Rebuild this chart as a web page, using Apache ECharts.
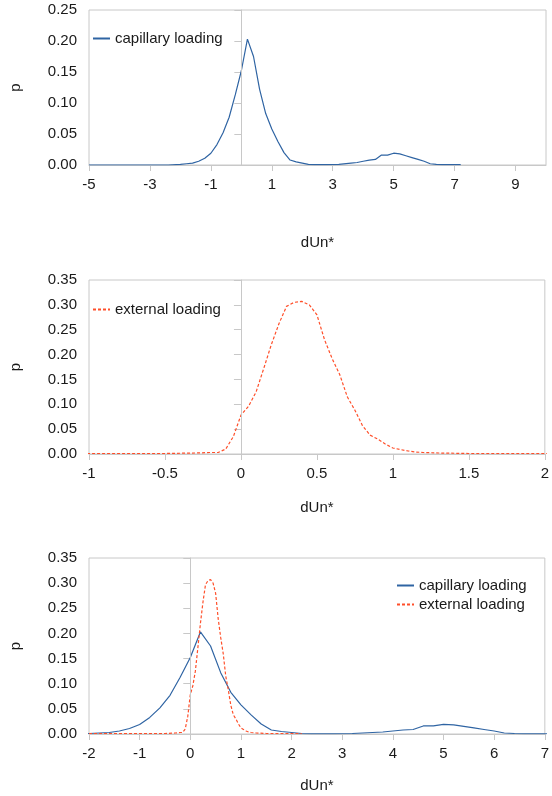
<!DOCTYPE html>
<html>
<head>
<meta charset="utf-8">
<script src="https://cdn.jsdelivr.net/npm/echarts@6/dist/echarts.min.js"></script>
<style>
  html, body { margin: 0; padding: 0; background: #fff; }
  #chart { width: 552px; height: 796px; }
</style>
</head>
<body>
<div id="chart"></div>
<script>
// Probability density of dUn* for the two loading cases
const capillaryX = [-5, -4, -3, -2.4, -2, -1.8, -1.6, -1.4, -1.2, -1, -0.8, -0.6, -0.4, -0.2, 0, 0.2, 0.4, 0.6, 0.8, 1,
  1.2, 1.4, 1.6, 1.8, 2, 2.2, 2.4, 2.8, 3.2, 3.6, 3.8, 4, 4.2, 4.4, 4.6, 4.8, 5, 5.2, 5.4, 5.6, 5.8, 6, 6.2, 6.4, 6.6, 7.2];
const capillaryP = [0, 0, 0, 0, 0.001, 0.002, 0.003, 0.006, 0.011, 0.019, 0.033, 0.052, 0.077, 0.113, 0.152, 0.203, 0.175, 0.122, 0.083, 0.058,
  0.038, 0.02, 0.008, 0.005, 0.003, 0.001, 0.0005, 0.0005, 0.001, 0.003, 0.004, 0.006, 0.008, 0.009, 0.016, 0.016, 0.019, 0.018, 0.015, 0.012, 0.009, 0.006, 0.002, 0.001, 0.0005, 0.0005];

const externalX = [-2, -1, -0.5, -0.3, -0.2, -0.15, -0.1, -0.05, 0, 0.05, 0.1, 0.15, 0.2, 0.25, 0.3, 0.35, 0.4, 0.45, 0.5, 0.55,
  0.6, 0.65, 0.7, 0.75, 0.8, 0.85, 0.9, 0.95, 1, 1.05, 1.1, 1.15, 1.2, 1.3, 1.5, 2, 2.2];
const externalP = [0.001, 0.001, 0.001, 0.002, 0.003, 0.003, 0.010, 0.035, 0.078, 0.096, 0.125, 0.172, 0.22, 0.262, 0.297, 0.305, 0.307, 0.300, 0.28, 0.23,
  0.192, 0.16, 0.115, 0.088, 0.057, 0.038, 0.03, 0.02, 0.012, 0.009, 0.006, 0.004, 0.003, 0.002, 0.001, 0.001, 0.001];

const topXTicks = [-5, -3, -1, 1, 3, 5, 7, 9];
const xAxisTitle = 'dUn*';
const yAxisTitle = 'p';
const capName = 'capillary loading';
const extName = 'external loading';

const FONT = 'Liberation Sans, Arial, sans-serif';
const GRAY = '#c8c8c8';
const TEXT = '#1a1a1a';
const BLUE = '#2f64a3';
const RED = '#ff4f2a';

const pairs = (xs, ys) => xs.map((x, i) => [x, ys[i]]);

function xAxis(gridIndex, min, max, interval, nameGap, custom) {
  const ax = {
    type: 'value', gridIndex, min, max,
    name: xAxisTitle, nameLocation: 'middle', nameGap,
    nameTextStyle: { fontFamily: FONT, fontSize: 15, color: TEXT },
    axisLine: { show: true, onZero: false, lineStyle: { color: GRAY, width: 1 } },
    axisTick: { show: true, length: 6, lineStyle: { color: GRAY } },
    axisLabel: { fontFamily: FONT, fontSize: 15, color: TEXT, margin: 12 },
    splitLine: { show: false }
  };
  if (custom) {
    ax.axisTick.customValues = custom;
    ax.axisLabel.customValues = custom;
  } else {
    ax.interval = interval;
  }
  return ax;
}

function yAxis(gridIndex, max) {
  return {
    type: 'value', gridIndex, min: 0, max, interval: 0.05,
    name: yAxisTitle, nameLocation: 'middle', nameGap: 66,
    nameTextStyle: { fontFamily: FONT, fontSize: 15, color: TEXT },
    axisLine: { show: true, lineStyle: { color: GRAY, width: 1 } },
    axisTick: { show: true, length: 7, lineStyle: { color: GRAY } },
    axisLabel: { fontFamily: FONT, fontSize: 15, color: TEXT, margin: 12,
      formatter: v => v.toFixed(2) },
    splitLine: { show: false }
  };
}

const zeroLine = {
  silent: true, symbol: 'none', label: { show: false },
  lineStyle: { color: GRAY, type: 'solid', width: 1 },
  data: [{ xAxis: 0 }]
};

function capSeries(idx, withZero) {
  return {
    name: capName, type: 'line', xAxisIndex: idx, yAxisIndex: idx,
    data: pairs(capillaryX, capillaryP), showSymbol: false, symbol: 'none',
    lineStyle: { color: BLUE, width: 1.2 }, itemStyle: { color: BLUE },
    clip: true, z: 3,
    markLine: withZero ? zeroLine : undefined
  };
}
function extSeries(idx, withZero) {
  return {
    name: extName, type: 'line', xAxisIndex: idx, yAxisIndex: idx,
    data: pairs(externalX, externalP), showSymbol: false, symbol: 'none',
    lineStyle: { color: RED, width: 1.2, type: [3, 2] }, itemStyle: { color: RED },
    clip: true, z: 4,
    markLine: withZero ? zeroLine : undefined
  };
}

const legendText = { fontFamily: FONT, fontSize: 15, color: TEXT };
// legend keys show only the line sample, no marker
const legendBase = {
  itemWidth: 17, itemHeight: 14, itemGap: 4,
  textStyle: legendText, selectedMode: false,
  itemStyle: { opacity: 0 }
};

const option = {
  animation: false,
  backgroundColor: '#fff',
  grid: [
    { left: 80, right: 6, top: 10, height: 155, show: true, borderColor: GRAY, borderWidth: 1 },
    { left: 81, right: 6, top: 280, height: 174, show: true, borderColor: GRAY, borderWidth: 1 },
    { left: 81, right: 3, top: 558, height: 176, show: true, borderColor: GRAY, borderWidth: 1 }
  ],
  xAxis: [
    xAxis(0, -5, 10, null, 70, topXTicks),
    xAxis(1, -1, 2, 0.5, 46),
    xAxis(2, -2, 7, 1, 44)
  ],
  yAxis: [yAxis(0, 0.25), yAxis(1, 0.35), yAxis(2, 0.35)],
  legend: [
    Object.assign({ data: [capName], left: 87, top: 26 }, legendBase),
    Object.assign({ data: [extName], left: 87, top: 297 }, legendBase),
    Object.assign({ data: [capName, extName], orient: 'vertical', left: 391, top: 573 }, legendBase)
  ],
  series: [
    capSeries(0, true),
    extSeries(1, true),
    capSeries(2, true),
    extSeries(2, false)
  ]
};

const chart = echarts.init(document.getElementById('chart'), null, { renderer: 'canvas' });
chart.setOption(option);
</script>
</body>
</html>
